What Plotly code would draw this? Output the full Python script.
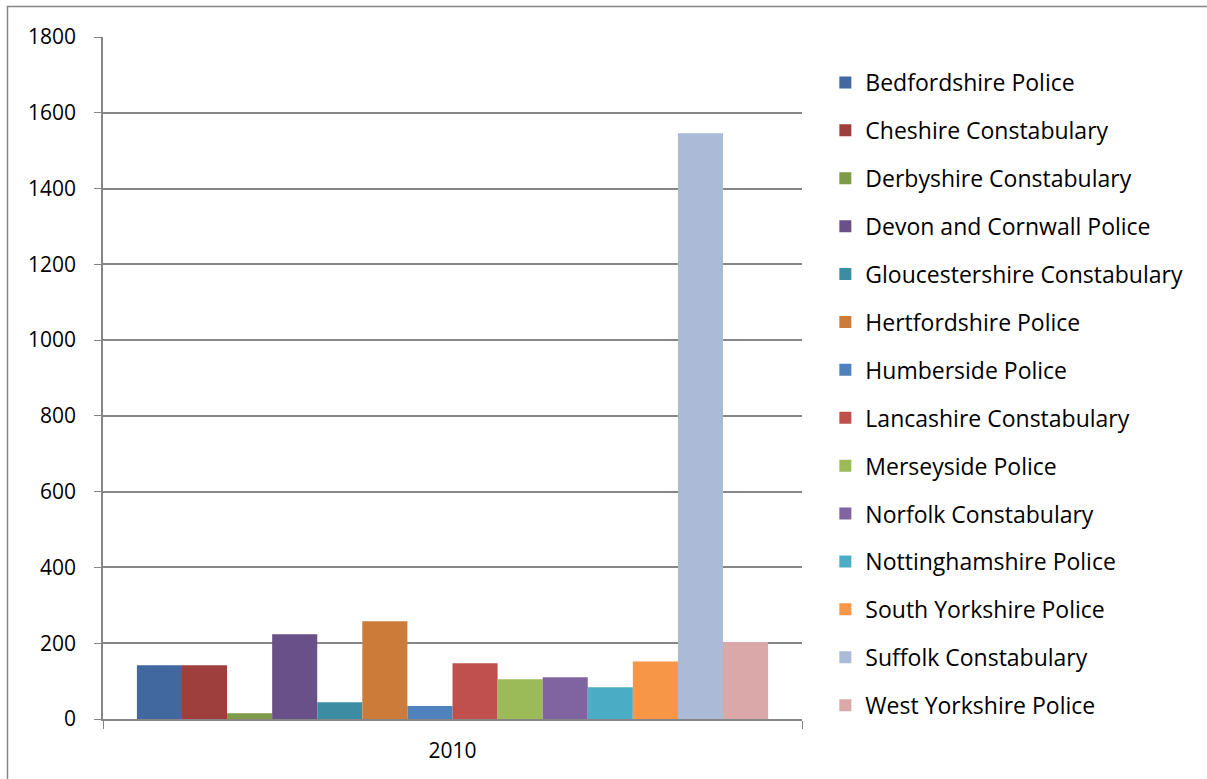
import plotly.graph_objects as go

categories = ["2010"]
forces = [
    "Bedfordshire Police", "Cheshire Constabulary", "Derbyshire Constabulary",
    "Devon and Cornwall Police", "Gloucestershire Constabulary", "Hertfordshire Police",
    "Humberside Police", "Lancashire Constabulary", "Merseyside Police",
    "Norfolk Constabulary", "Nottinghamshire Police", "South Yorkshire Police",
    "Suffolk Constabulary", "West Yorkshire Police",
]
values = [142, 142, 15, 224, 44, 258, 34, 147, 105, 110, 84, 152, 1546, 203]
colors = [
    "#4169A0", "#9E3F3D", "#7F9A49", "#6A5088", "#3C8CA3", "#CC7B38", "#4F81BD",
    "#C0504D", "#9BBB59", "#8064A2", "#4BACC6", "#F79646", "#AABAD7", "#DAA8A8",
]
y_ticks = [0, 200, 400, 600, 800, 1000, 1200, 1400, 1600, 1800]

fig = go.Figure()
for name, v, c in zip(forces, values, colors):
    fig.add_trace(go.Bar(x=categories, y=[v], name=name, marker_color=c,
                         marker_line_width=0, legendgroup=name))

bx0 = (7.5 - 103) / 699
by1 = (719 - 6.5) / 682
frame_path = f"M {bx0},-0.2 L {bx0},{by1} L 1.6,{by1}"

fig.update_layout(
    width=1207, height=779,
    margin=dict(l=103, r=405, t=37, b=60, autoexpand=False),
    paper_bgcolor="white", plot_bgcolor="white",
    barmode="group", bargap=0.097, bargroupgap=0,
    font=dict(family="Open Sans", color="#000000"),
    showlegend=True,
    legend=dict(x=1.0334, xanchor="left", y=(719 - 61) / 682,
                yanchor="top", maxheight=770,
                font=dict(size=23, family="Open Sans"),
                tracegroupgap=15, traceorder="grouped",
                bgcolor="rgba(0,0,0,0)"),
    yaxis=dict(range=[0, 1800], tickvals=y_ticks, showgrid=True,
               gridcolor="#868686", gridwidth=1.5, showline=True,
               linecolor="#868686", linewidth=1.5, ticks="outside", ticklen=7,
               tickcolor="#868686", tickfont=dict(size=21), zeroline=False,
               ticklabelstandoff=14),
    xaxis=dict(showline=True, linecolor="#868686", linewidth=1.5, ticks="outside",
               tickson="boundaries", ticklen=8, tickcolor="#868686",
               tickfont=dict(size=21), ticklabelstandoff=12),
    shapes=[dict(type="path", xref="paper", yref="paper", path=frame_path,
                 line=dict(color="#868686", width=1.5), layer="below")],
)

fig.write_html("out.html")
